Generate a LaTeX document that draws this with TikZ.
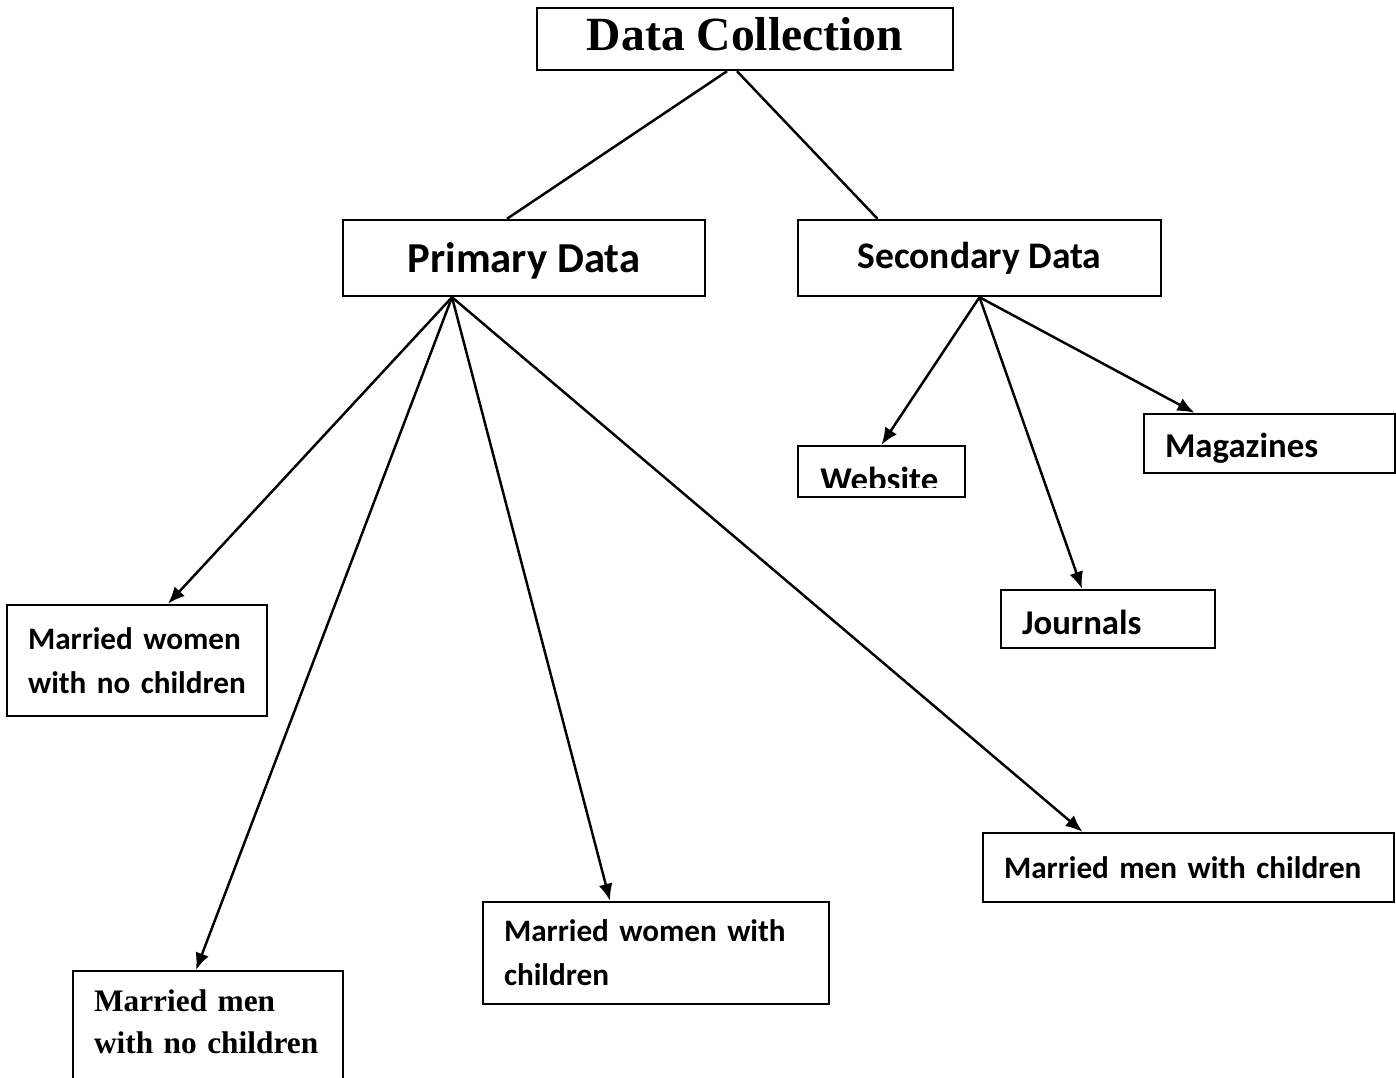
\documentclass[tikz,border=0pt]{standalone}
\usepackage{fontspec}
\setmainfont{Carlito}
\newfontfamily\timesfont{Liberation Serif}
\usetikzlibrary{arrows.meta, calc, positioning}
\tikzset{
  box/.style={draw, line width=1.4pt, inner sep=0pt, font=\bfseries},
  leaf/.style={box, align=left, inner xsep=0.42cm, font=\fontsize{17.75}{25}\selectfont\bfseries},
  single/.style={leaf, font=\fontsize{19.8}{25}\selectfont\bfseries, text depth=0pt},
  link/.style={line width=1.4pt},
  arrowlink/.style={link, -{Latex[length=0.34cm, width=0.28cm]}},
}

\begin{document}
\begin{tikzpicture}[x=0.02cm, y=-0.02cm]
    \useasboundingbox (0,0) rectangle (1396,1078);
    \clip (0,0) rectangle (1396,1078);

    \node [box, minimum width=8.32cm, minimum height=1.24cm, text depth=0.2cm, font=\timesfont\fontsize{27.1}{32}\selectfont\bfseries] (dc) at (745,39) {Data Collection};
    \node [box, minimum width=7.24cm, minimum height=1.52cm, text depth=0pt, font=\fontsize{24.3}{29}\selectfont\bfseries] (pd) at (524,258) {Primary Data};
    \node [box, minimum width=7.26cm, minimum height=1.52cm, font=\fontsize{21.35}{25}\selectfont\bfseries] (sd) at (979.5,258) {Secondary Data};

    \node [leaf, text width=4.36cm, minimum height=2.22cm] (mwnc) at (137,660.5) {\mbox{Married women}\\\mbox{with no children}};
    \node [leaf, anchor=north, text width=4.56cm, inner ysep=0.38cm, text depth=2cm, font=\timesfont\fontsize{17.85}{23.8}\selectfont\bfseries] (mmnc) at (208,970) {\mbox{Married men}\\\mbox{with no children}};
    \node [leaf, text width=6.08cm, minimum height=2.04cm] (mwc) at (656,953) {\mbox{Married women with}\\children};
    \node [leaf, text width=7.38cm, minimum height=1.38cm] (mmc) at (1188.5,867.5) {\mbox{Married men with children}};

    \node [box, minimum width=3.34cm, minimum height=1.02cm] (web) at (881.5,471.5) {};
    \begin{scope}
        \clip ($(web.south west)+(0,-11)$) rectangle (web.north east);
        \node [font=\fontsize{19.8}{25}\selectfont\bfseries, anchor=base west, inner sep=0pt] (webtxt) at (820,491) {Website};
    \end{scope}
    \node [single, text width=3.44cm, minimum height=1.16cm, text height=0.6cm] (jour) at (1108,619) {Journals};
    \node [single, text width=4.18cm, minimum height=1.18cm, text height=0.54cm] (mag) at (1269.5,443.5) {Magazines};

    \coordinate (pdfoot) at ($(pd.south)+(-72,0)$);
    \coordinate (sdfoot) at (sd.south);

    \draw [link] ($(dc.south)+(-18,0)$) -- ($(pd.north)+(-17,0)$);
    \draw [link] ($(dc.south)+(-8,0)$) -- ($(sd.north)+(-102,0)$);

    \draw [arrowlink] (pdfoot) -- ($(mwnc.north)+(31,0)$);
    \draw [arrowlink] (pdfoot) -- ($(mmnc.north)+(-12,0)$);
    \draw [arrowlink] (pdfoot) -- ($(mwc.north)+(-46,0)$);
    \draw [arrowlink] (pdfoot) -- ($(mmc.north)+(-106,0)$);

    \draw [arrowlink] (sdfoot) -- (web.north);
    \draw [arrowlink] (sdfoot) -- ($(jour.north)+(-26,0)$);
    \draw [arrowlink] (sdfoot) -- ($(mag.north)+(-75,0)$);
\end{tikzpicture}
\end{document}
